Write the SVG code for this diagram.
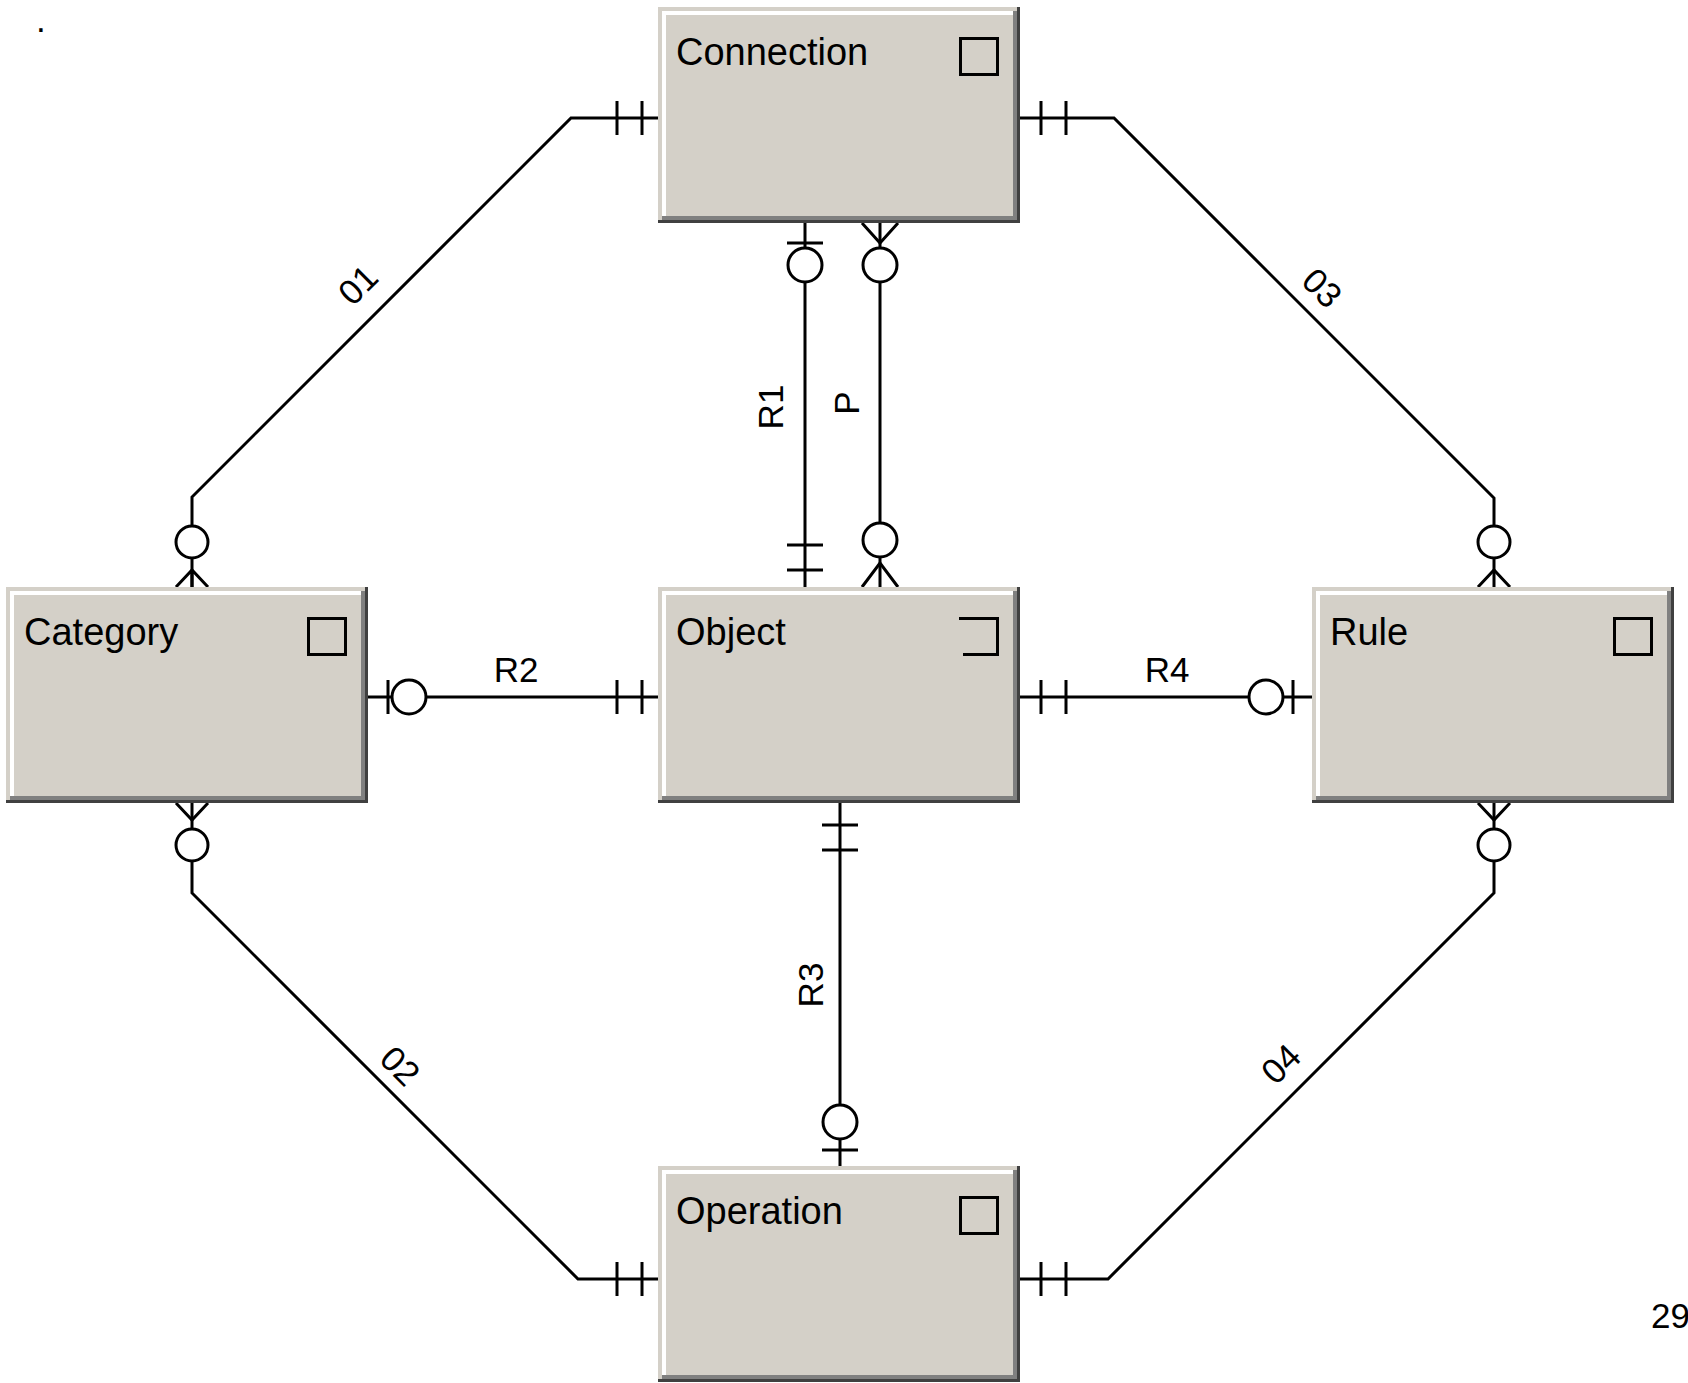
<svg xmlns="http://www.w3.org/2000/svg" xmlns:xlink="http://www.w3.org/1999/xlink" width="1688" height="1383" viewBox="0 0 1688 1383">
  <style>
    .name { font-family: "Liberation Sans", Arial, sans-serif; font-size: 38px; fill: #000; }
    .lbl { font-family: "Liberation Sans", Arial, sans-serif; font-size: 35px; fill: #000; }
    .icon { fill: none; stroke: #000; stroke-width: 3; }
    .wire { fill: none; stroke: #000; stroke-width: 3; }
    .mark { fill: none; stroke: #000; stroke-width: 3; }
    .ring { fill: #fff; stroke: #000; stroke-width: 3; }
  </style>
  <defs>
    <!-- raised 3D entity card, 362 x 216 -->
    <g id="card">
      <rect x="0" y="0" width="362" height="216" fill="#404040"/>
      <rect x="0" y="0" width="359" height="213" fill="#d4d0c8"/>
      <rect x="4" y="4" width="355" height="209" fill="#808080"/>
      <rect x="4" y="4" width="351" height="205" fill="#ffffff"/>
      <rect x="8" y="8" width="347" height="201" fill="#d4d0c8"/>
    </g>
    <rect id="box-icon" x="302.5" y="31.5" width="37" height="36" class="icon"/>
  </defs>

  <rect width="1688" height="1383" fill="#fff"/>

  <!-- relationship lines -->
  <g id="connectors">
    <!-- 01: Connection - Category -->
    <path class="wire" d="M658,118 H571 L192,497 V587"/>
    <path class="mark" d="M617,101 V135 M642,101 V135"/>
    <path class="mark" d="M176,587 L192,570 L208,587 M192,570 V587"/>
    <circle class="ring" cx="192" cy="542" r="16"/>

    <!-- 03: Connection - Rule -->
    <path class="wire" d="M1020,118 H1114 L1494,498 V587"/>
    <path class="mark" d="M1041,101 V135 M1066,101 V135"/>
    <path class="mark" d="M1478,587 L1494,570 L1510,587"/>
    <circle class="ring" cx="1494" cy="542" r="16"/>

    <!-- 02: Category - Operation -->
    <path class="wire" d="M192,803 V893 L578,1279 H658"/>
    <path class="mark" d="M176,803 L192,820 L208,803"/>
    <circle class="ring" cx="192" cy="845" r="16"/>
    <path class="mark" d="M617,1262 V1296 M642,1262 V1296"/>

    <!-- 04: Rule - Operation -->
    <path class="wire" d="M1494,803 V893 L1108,1279 H1020"/>
    <path class="mark" d="M1478,803 L1494,820 L1510,803"/>
    <circle class="ring" cx="1494" cy="845" r="16"/>
    <path class="mark" d="M1041,1262 V1296 M1066,1262 V1296"/>

    <!-- R1: Connection - Object -->
    <path class="wire" d="M805,223 V587"/>
    <path class="mark" d="M787,243 H823"/>
    <circle class="ring" cx="805" cy="265" r="17"/>
    <path class="mark" d="M787,545 H823 M787,570 H823"/>

    <!-- P: Connection - Object -->
    <path class="wire" d="M880,223 V587"/>
    <path class="mark" d="M862,223 L880,243 L898,223"/>
    <circle class="ring" cx="880" cy="265" r="17"/>
    <circle class="ring" cx="880" cy="540" r="17"/>
    <path class="mark" d="M862,587 L880,563 L898,587"/>

    <!-- R2: Category - Object -->
    <path class="wire" d="M368,697 H658"/>
    <path class="mark" d="M388,680 V714"/>
    <circle class="ring" cx="409" cy="697" r="17"/>
    <path class="mark" d="M617,680 V714 M642,680 V714"/>

    <!-- R4: Object - Rule -->
    <path class="wire" d="M1020,697 H1312"/>
    <path class="mark" d="M1041,680 V714 M1066,680 V714"/>
    <circle class="ring" cx="1266" cy="697" r="17"/>
    <path class="mark" d="M1293,680 V714"/>

    <!-- R3: Object - Operation -->
    <path class="wire" d="M840,803 V1166"/>
    <path class="mark" d="M822,825 H858 M822,850 H858"/>
    <circle class="ring" cx="840" cy="1122" r="17"/>
    <path class="mark" d="M822,1150 H858"/>

    <!-- relationship names -->
    <text class="lbl" text-anchor="middle" transform="translate(358,285) rotate(-45)" y="12">01</text>
    <text class="lbl" text-anchor="middle" transform="translate(1322,288) rotate(45)" y="12">03</text>
    <text class="lbl" text-anchor="middle" transform="translate(400,1066) rotate(45)" y="12">02</text>
    <text class="lbl" text-anchor="middle" transform="translate(1281,1064) rotate(-45)" y="12">04</text>
    <text class="lbl" text-anchor="middle" transform="translate(771,407) rotate(-90)" y="12">R1</text>
    <text class="lbl" text-anchor="middle" transform="translate(847,403) rotate(-90)" y="12">P</text>
    <text class="lbl" text-anchor="middle" transform="translate(811,985) rotate(-90)" y="12">R3</text>
    <text class="lbl" text-anchor="middle" x="516" y="682">R2</text>
    <text class="lbl" text-anchor="middle" x="1167" y="682">R4</text>
  </g>

  <!-- entities -->
  <g id="node-connection" transform="translate(658,7)">
    <use xlink:href="#card"/>
    <text class="name" x="18" y="58">Connection</text>
    <use xlink:href="#box-icon"/>
  </g>
  <g id="node-category" transform="translate(6,587)">
    <use xlink:href="#card"/>
    <text class="name" x="18" y="58">Category</text>
    <use xlink:href="#box-icon"/>
  </g>
  <g id="node-object" transform="translate(658,587)">
    <use xlink:href="#card"/>
    <text class="name" x="18" y="58">Object</text>
    <path class="icon" d="M301,31.5 H339.5 V67.5 H305"/>
  </g>
  <g id="node-rule" transform="translate(1312,587)">
    <use xlink:href="#card"/>
    <text class="name" x="18" y="58">Rule</text>
    <use xlink:href="#box-icon"/>
  </g>
  <g id="node-operation" transform="translate(658,1166)">
    <use xlink:href="#card"/>
    <text class="name" x="18" y="58">Operation</text>
    <use xlink:href="#box-icon"/>
  </g>

  <!-- page marks -->
  <text class="lbl" x="36" y="32">.</text>
  <text class="lbl" x="1651" y="1328">29</text>
</svg>
